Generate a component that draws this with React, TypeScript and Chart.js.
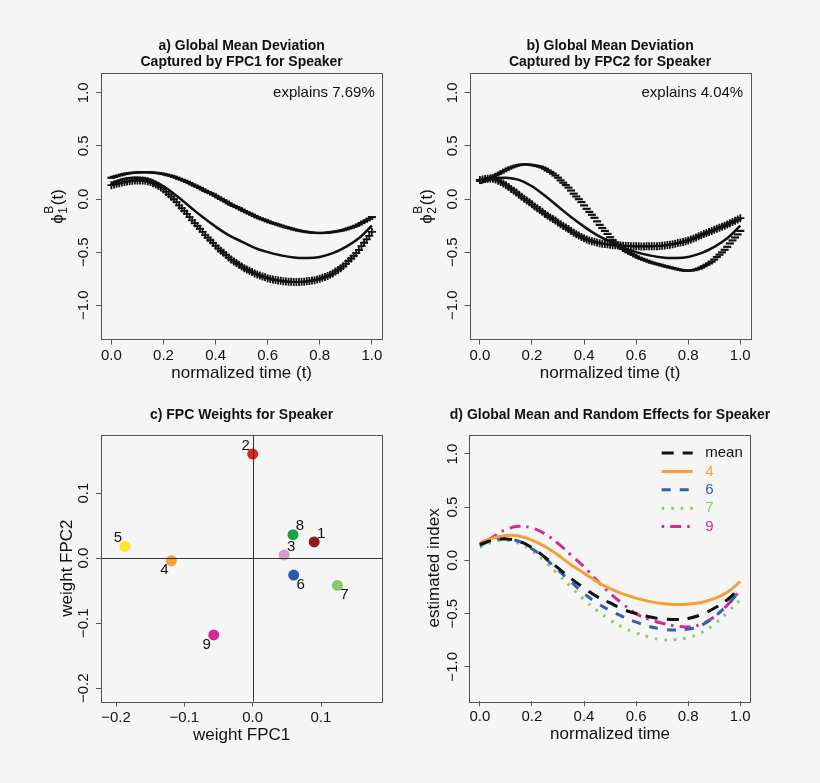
import React, { useEffect, useRef } from 'react';
import { Chart, registerables } from 'chart.js';

Chart.register(...registerables);

const FONT = "'Liberation Sans', Arial, Helvetica, sans-serif";

// normalized time samples
const timeGrid = [0, 0.05, 0.1, 0.15, 0.2, 0.25, 0.3, 0.35, 0.4, 0.45, 0.5, 0.55, 0.6, 0.65, 0.7, 0.75, 0.8, 0.85, 0.9, 0.95, 1];

// global mean curve
const meanCurve = [0.15, 0.19, 0.2, 0.18, 0.12, 0.03, -0.07, -0.17, -0.26, -0.34, -0.4, -0.46, -0.5, -0.53, -0.55, -0.555, -0.545, -0.51, -0.45, -0.37, -0.25];

// mean +/- FPC1 deviation
const fpc1PlusCurve = [0.13, 0.16, 0.175, 0.16, 0.09, -0.03, -0.17, -0.31, -0.44, -0.55, -0.635, -0.7, -0.745, -0.77, -0.78, -0.775, -0.75, -0.7, -0.61, -0.48, -0.31];
const fpc1MinusCurve = [0.2, 0.235, 0.25, 0.25, 0.235, 0.2, 0.15, 0.09, 0.03, -0.04, -0.1, -0.16, -0.21, -0.25, -0.285, -0.31, -0.32, -0.31, -0.285, -0.24, -0.17];

// mean +/- FPC2 deviation
const fpc2PlusCurve = [0.18, 0.19, 0.13, 0.04, -0.05, -0.14, -0.22, -0.3, -0.37, -0.41, -0.43, -0.44, -0.445, -0.445, -0.44, -0.42, -0.39, -0.34, -0.29, -0.24, -0.18];
const fpc2MinusCurve = [0.17, 0.21, 0.275, 0.32, 0.32, 0.285, 0.2, 0.08, -0.06, -0.21, -0.36, -0.47, -0.54, -0.59, -0.625, -0.655, -0.675, -0.645, -0.57, -0.45, -0.3];

const explainedVariance = ['7.69%', '4.04%'];

// speaker FPC weights
const speakers = ['1', '2', '3', '4', '5', '6', '7', '8', '9'];
const weightFPC1 = [0.09, 0.0, 0.046, -0.119, -0.187, 0.06, 0.124, 0.059, -0.057];
const weightFPC2 = [0.025, 0.16, 0.005, -0.004, 0.018, -0.026, -0.042, 0.036, -0.118];
const speakerColors = ['#8E1B1E', '#E3201F', '#D99ACB', '#F5A033', '#FDE52B', '#245DAB', '#86C86A', '#16A04C', '#CF2D93'];
const speakerLabelCorner = ['ur', 'ul', 'ur', 'll', 'ul', 'lr', 'lr', 'ur', 'll'];

// estimated curves for selected speakers
const speaker4Curve = [0.165, 0.21, 0.235, 0.23, 0.19, 0.13, 0.05, -0.04, -0.12, -0.2, -0.265, -0.315, -0.355, -0.385, -0.405, -0.415, -0.41, -0.395, -0.36, -0.3, -0.2];
const speaker6Curve = [0.14, 0.19, 0.205, 0.18, 0.11, 0.02, -0.09, -0.2, -0.31, -0.4, -0.47, -0.53, -0.58, -0.62, -0.645, -0.655, -0.645, -0.61, -0.53, -0.42, -0.28];
const speaker7Curve = [0.125, 0.17, 0.19, 0.16, 0.09, -0.01, -0.13, -0.25, -0.37, -0.47, -0.56, -0.63, -0.68, -0.72, -0.745, -0.745, -0.725, -0.68, -0.6, -0.49, -0.37];
const speaker9Curve = [0.15, 0.22, 0.29, 0.32, 0.305, 0.25, 0.16, 0.05, -0.06, -0.19, -0.31, -0.41, -0.5, -0.555, -0.59, -0.615, -0.625, -0.6, -0.53, -0.42, -0.28];

// axis ticks
const curveTicks = [-1, -0.5, 0, 0.5, 1];
const timeTicks = [0, 0.2, 0.4, 0.6, 0.8, 1];
const weightTicksX = [-0.2, -0.1, 0, 0.1];
const weightTicksY = [-0.2, -0.1, 0, 0.1];

const fmt = (v: number) => (Math.abs(v) < 1e-9 ? 0 : v).toFixed(1).replace('-', '\u2212');
const pairs = (xs: number[], ys: number[]) => xs.map((x, i) => ({ x, y: ys[i] }));

// draws the R-style decorations: box, rotated y tick labels, titles, markers, legend
const rDecor = {
  id: 'rDecor',
  afterDraw(chart: any, _args: any, opts: any) {
    const { ctx, chartArea: a } = chart;
    const xs = chart.scales.x;
    const ys = chart.scales.y;
    ctx.save();

    if (opts.zeroLines) {
      ctx.strokeStyle = '#333';
      ctx.lineWidth = 1;
      const zx = Math.round(xs.getPixelForValue(0)) + 0.5;
      const zy = Math.round(ys.getPixelForValue(0)) + 0.5;
      ctx.beginPath();
      ctx.moveTo(zx, a.top);
      ctx.lineTo(zx, a.bottom);
      ctx.moveTo(a.left, zy);
      ctx.lineTo(a.right, zy);
      ctx.stroke();
    }

    // dense glyph markers along marker curves
    chart.data.datasets.forEach((ds: any, i: number) => {
      if (!ds.marker) return;
      const line = chart.getDatasetMeta(i).dataset;
      const t0 = ds.data[0].x;
      const t1 = ds.data[ds.data.length - 1].x;
      ctx.strokeStyle = '#111';
      for (let k = 0; k <= 100; k++) {
        const px = xs.getPixelForValue(t0 + ((t1 - t0) * k) / 100);
        let pt = line.interpolate({ x: px }, 'x');
        if (Array.isArray(pt)) pt = pt[0];
        if (!pt) continue;
        ctx.beginPath();
        if (ds.marker === '+') {
          ctx.lineWidth = 1.8;
          ctx.moveTo(pt.x - 4, pt.y);
          ctx.lineTo(pt.x + 4, pt.y);
          ctx.moveTo(pt.x, pt.y - 4);
          ctx.lineTo(pt.x, pt.y + 4);
        } else {
          ctx.lineWidth = 2.2;
          ctx.moveTo(pt.x - 4, pt.y);
          ctx.lineTo(pt.x + 4, pt.y);
        }
        ctx.stroke();
      }
    });

    // point labels
    chart.data.datasets.forEach((ds: any, i: number) => {
      if (!ds.pointLabels) return;
      const meta = chart.getDatasetMeta(i);
      ctx.fillStyle = '#111';
      ctx.font = `15px ${FONT}`;
      ctx.textAlign = 'center';
      ctx.textBaseline = 'middle';
      meta.data.forEach((el: any, j: number) => {
        const c = ds.labelCorners[j];
        const dx = c[1] === 'r' ? 7 : -7;
        const dy = c[0] === 'u' ? -8.5 : 9.5;
        ctx.fillText(ds.pointLabels[j], el.x + dx, el.y + dy);
      });
    });

    // box
    ctx.strokeStyle = '#555';
    ctx.lineWidth = 1;
    ctx.strokeRect(Math.round(a.left) + 0.5, Math.round(a.top) + 0.5, Math.round(a.right - a.left), Math.round(a.bottom - a.top));

    // rotated y tick labels
    ctx.fillStyle = '#111';
    ctx.font = `15px ${FONT}`;
    ctx.textAlign = 'center';
    ctx.textBaseline = 'middle';
    ys.ticks.forEach((t: any) => {
      const py = ys.getPixelForValue(t.value);
      ctx.save();
      ctx.translate(a.left - 17, py);
      ctx.rotate(-Math.PI / 2);
      ctx.fillText(fmt(t.value), 0, 0);
      ctx.restore();
    });

    // y axis title
    const yt = opts.yTitle;
    if (yt) {
      const cy = (a.top + a.bottom) / 2;
      ctx.save();
      ctx.translate(a.left - yt.offset, cy);
      ctx.rotate(-Math.PI / 2);
      ctx.textBaseline = 'alphabetic';
      ctx.fillStyle = '#111';
      if (yt.phi) {
        const main = `17px ${FONT}`;
        const small = `12px ${FONT}`;
        ctx.font = main;
        const w1 = ctx.measureText('\u03D5').width;
        ctx.font = small;
        const w2 = Math.max(ctx.measureText('B').width, ctx.measureText(yt.phi).width);
        ctx.font = main;
        const w3 = ctx.measureText('(t)').width;
        let x = -(w1 + w2 + w3 + 1) / 2;
        ctx.textAlign = 'left';
        ctx.fillText('\u03D5', x, 0);
        x += w1 + 0.5;
        ctx.font = small;
        ctx.fillText('B', x, -10);
        ctx.fillText(yt.phi, x, 4);
        x += w2 + 0.5;
        ctx.font = main;
        ctx.fillText('(t)', x, 0);
      } else {
        ctx.font = `17px ${FONT}`;
        ctx.textAlign = 'center';
        ctx.fillText(yt.text, 0, 0);
      }
      ctx.restore();
    }

    // panel title
    if (opts.title) {
      ctx.font = `bold 14px ${FONT}`;
      ctx.fillStyle = '#111';
      ctx.textAlign = 'center';
      ctx.textBaseline = 'middle';
      const cx = (a.left + a.right) / 2;
      opts.title.forEach((line: string, k: number) => {
        ctx.fillText(line, cx, a.top + opts.titleY[k]);
      });
    }

    if (opts.explains) {
      ctx.font = `15px ${FONT}`;
      ctx.fillStyle = '#111';
      ctx.textAlign = 'right';
      ctx.textBaseline = 'middle';
      ctx.fillText(opts.explains, a.right - 7.5, a.top + 19.5);
    }

    // legend
    if (opts.legend) {
      let row = 0;
      chart.data.datasets.forEach((ds: any) => {
        if (!ds.label) return;
        const y = a.top + 18.6 + row * 18.35;
        ctx.strokeStyle = ds.borderColor;
        ctx.lineWidth = ds.borderWidth;
        ctx.lineCap = 'butt';
        ctx.setLineDash(ds.borderDash || []);
        ctx.beginPath();
        ctx.moveTo(a.right - 89, y);
        ctx.lineTo(a.right - 58, y);
        ctx.stroke();
        ctx.setLineDash([]);
        ctx.fillStyle = ds.borderColor;
        ctx.font = `15px ${FONT}`;
        ctx.textAlign = 'left';
        ctx.textBaseline = 'middle';
        ctx.fillText(ds.label, a.right - 45.5, y);
        row++;
      });
    }
    ctx.restore();
  },
};

function xAxis(min: number, max: number, tickValues: number[], title: string) {
  return {
    type: 'linear',
    position: 'bottom',
    min,
    max,
    afterBuildTicks: (s: any) => {
      s.ticks = tickValues.map((v) => ({ value: v }));
    },
    afterFit: (s: any) => {
      s.height = 50;
    },
    grid: { display: true, drawOnChartArea: false, drawTicks: true, tickLength: 5, color: '#555', lineWidth: 1 },
    border: { display: false },
    ticks: {
      autoSkip: false,
      maxRotation: 0,
      padding: 2,
      color: '#111',
      font: { family: FONT, size: 15 },
      callback: (v: number) => fmt(v),
    },
    title: { display: true, text: title, color: '#111', font: { family: FONT, size: 17 }, padding: { top: 0, bottom: 6.4 } },
  };
}

function yAxis(min: number, max: number, tickValues: number[]) {
  return {
    type: 'linear',
    position: 'left',
    min,
    max,
    afterBuildTicks: (s: any) => {
      s.ticks = tickValues.map((v) => ({ value: v }));
    },
    afterFit: (s: any) => {
      s.width = 40;
    },
    grid: { display: true, drawOnChartArea: false, drawTicks: true, tickLength: 5, color: '#555', lineWidth: 1 },
    border: { display: false },
    ticks: { display: false },
  };
}

function baseOptions(padding: any, decor: any, scales: any) {
  return {
    responsive: false,
    maintainAspectRatio: false,
    animation: false,
    devicePixelRatio: 1,
    layout: { padding },
    scales,
    plugins: { legend: { display: false }, tooltip: { enabled: false }, title: { display: false }, rDecor: decor },
  };
}

function fpcConfig(plus: number[], minus: number[], title: string[], phi: string, explains: string, padding: any) {
  return {
    type: 'line',
    data: {
      datasets: [
        { data: pairs(timeGrid, meanCurve), borderColor: '#111', borderWidth: 2.5, pointRadius: 0, tension: 0.4 },
        { data: pairs(timeGrid, plus), marker: '+', borderColor: 'rgba(0,0,0,0)', borderWidth: 0, pointRadius: 0, tension: 0.4 },
        { data: pairs(timeGrid, minus), marker: '-', borderColor: 'rgba(0,0,0,0)', borderWidth: 0, pointRadius: 0, tension: 0.4 },
      ],
    },
    options: baseOptions(
      padding,
      { title, titleY: [-26.8, -11.3], yTitle: { phi, offset: 38 }, explains },
      { x: xAxis(-0.04, 1.04, timeTicks, 'normalized time (t)'), y: yAxis(-1.323, 1.183, curveTicks) }
    ),
    plugins: [rDecor],
  };
}

function weightsConfig() {
  return {
    type: 'scatter',
    data: {
      datasets: [
        {
          data: pairs(weightFPC1, weightFPC2),
          backgroundColor: speakerColors,
          borderWidth: 0,
          pointRadius: 5.5,
          pointLabels: speakers,
          labelCorners: speakerLabelCorner,
        },
      ],
    },
    options: baseOptions(
      { left: 61, right: 27.7, top: 42.7, bottom: 31.5 },
      { title: ['c) FPC Weights for Speaker'], titleY: [-19.1], yTitle: { text: 'weight FPC2', offset: 29 }, zeroLines: true },
      { x: xAxis(-0.222, 0.1897, weightTicksX, 'weight FPC1'), y: yAxis(-0.2203, 0.1897, weightTicksY) }
    ),
    plugins: [rDecor],
  };
}

function effectsConfig() {
  const line = (label: string, ys: number[], color: string, dash: number[]) => ({
    label,
    data: pairs(timeGrid, ys),
    borderColor: color,
    borderWidth: 3,
    borderDash: dash,
    pointRadius: 0,
    tension: 0.4,
    fill: false,
  });
  return {
    type: 'line',
    data: {
      datasets: [
        line('mean', meanCurve, '#111111', [12, 9]),
        line('4', speaker4Curve, speakerColors[3], []),
        line('6', speaker6Curve, '#2F62AE', [9, 9]),
        line('7', speaker7Curve, speakerColors[6], [2.5, 7]),
        line('9', speaker9Curve, speakerColors[8], [2.5, 6, 11, 6]),
      ],
    },
    options: baseOptions(
      { left: 19.4, right: 69.3, top: 42.5, bottom: 31.8 },
      { title: ['d) Global Mean and Random Effects for Speaker'], titleY: [-19.1], yTitle: { text: 'estimated index', offset: 30 }, legend: true },
      { x: xAxis(-0.04, 1.04, timeTicks, 'normalized time'), y: yAxis(-1.323, 1.183, curveTicks) }
    ),
    plugins: [rDecor],
  };
}

function Panel({ left, top, width, height, make }: any) {
  const ref = useRef<HTMLCanvasElement>(null);
  useEffect(() => {
    const chart = new Chart(ref.current as HTMLCanvasElement, make());
    return () => chart.destroy();
  }, []);
  return (
    <div style={{ position: 'absolute', left, top, width, height }}>
      <canvas ref={ref} width={width} height={height} style={{ display: 'block', width, height }} />
    </div>
  );
}

export default function App() {
  return (
    <div style={{ position: 'absolute', left: 0, top: 0, width: 820, height: 783, background: '#f5f5f5', overflow: 'hidden' }}>
      <Panel
        left={0}
        top={0}
        width={410}
        height={392}
        make={() =>
          fpcConfig(fpc1PlusCurve, fpc1MinusCurve, ['a) Global Mean Deviation', 'Captured by FPC1 for Speaker'], '1', `explains ${explainedVariance[0]}`, { left: 61, right: 27.7, top: 73.3, bottom: 2.4 })
        }
      />
      <Panel
        left={410}
        top={0}
        width={410}
        height={392}
        make={() =>
          fpcConfig(fpc2PlusCurve, fpc2MinusCurve, ['b) Global Mean Deviation', 'Captured by FPC2 for Speaker'], '2', `explains ${explainedVariance[1]}`, { left: 19.5, right: 69.3, top: 73.3, bottom: 2.4 })
        }
      />
      <Panel left={0} top={392} width={410} height={391} make={weightsConfig} />
      <Panel left={410} top={392} width={410} height={391} make={effectsConfig} />
    </div>
  );
}
